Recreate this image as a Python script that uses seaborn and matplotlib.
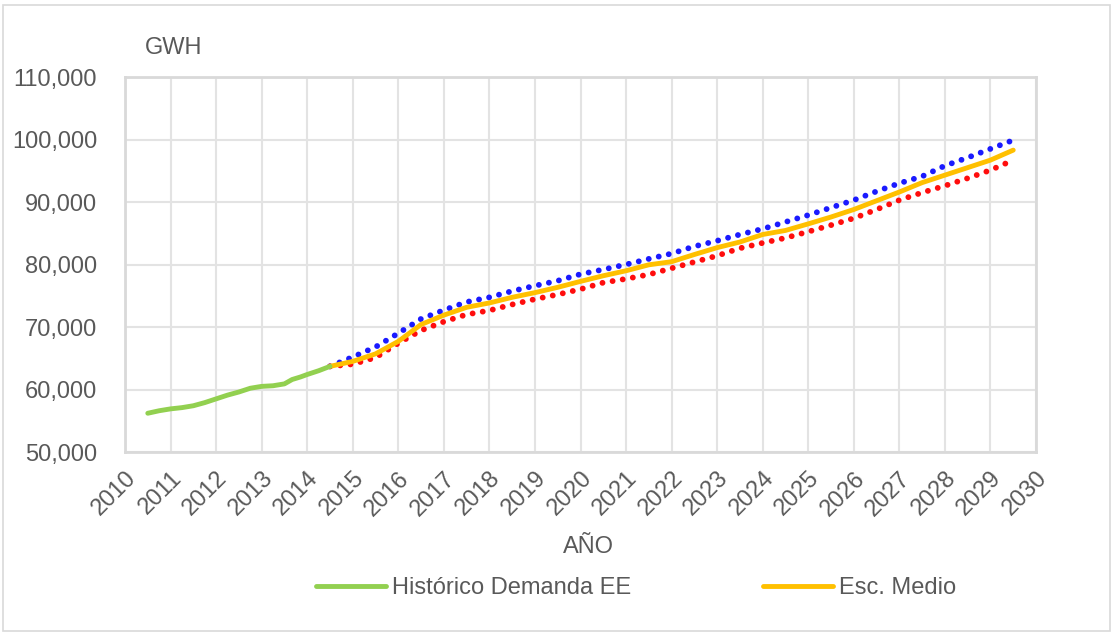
import matplotlib
matplotlib.use("Agg")
import matplotlib.pyplot as plt
from matplotlib.ticker import FuncFormatter
from matplotlib.patches import Rectangle
import seaborn as sns
import pandas as pd

# Historical electricity demand (GWh, rolling annual total)
hist_year = [2010.5, 2010.75, 2011.0, 2011.25, 2011.5, 2011.75, 2012.0, 2012.25,
             2012.5, 2012.75, 2013.0, 2013.25, 2013.5, 2013.67, 2013.85, 2014.0,
             2014.25, 2014.5]
hist_gwh = [56200, 56600, 56900, 57100, 57400, 57900, 58500, 59100,
            59600, 60200, 60500, 60600, 60900, 61600, 62000, 62400,
            63000, 63700]

# Forecast scenarios (GWh), semiannual
fc_year = [2014.5 + 0.5 * i for i in range(31)]
esc_medio = [63700, 64500, 65700, 67700, 70400, 71900, 73150, 73850, 74750, 75500,
             76350, 77300, 78200, 79000, 79950, 80450, 81600, 82700, 83600, 84800,
             85450, 86500, 87600, 88800, 90200, 91600, 93100, 94300, 95500, 96700,
             98300]
esc_alto = [63700, 65200, 66800, 69000, 71300, 72700, 74000, 74750, 75750, 76600,
            77400, 78450, 79200, 80000, 80900, 81750, 82900, 83800, 84800, 85700,
            86800, 87900, 89100, 90300, 91700, 93000, 94100, 95800, 97100, 98500,
            99900]
esc_bajo = [63700, 64050, 65100, 67400, 69450, 70850, 72000, 72650, 73600, 74450,
            75200, 76050, 77100, 77700, 78400, 79400, 80400, 81400, 82600, 83450,
            84250, 85250, 86300, 87400, 88800, 90300, 91500, 92600, 93800, 95100,
            96700]

year_ticks = list(range(2010, 2031))
gwh_ticks = list(range(50000, 110001, 10000))

sns.set_theme(style="white")
plt.rcParams["font.family"] = ["Liberation Sans", "DejaVu Sans"]
TXT = "#595959"
GRID = "#d9d9d9"

fig = plt.figure(figsize=(11.14, 6.35), dpi=100)
ax = fig.add_axes([125 / 1114, 1 - 452 / 635, (1036 - 125) / 1114, (452 - 77) / 635])

hist_df = pd.DataFrame({"year": hist_year, "gwh": hist_gwh})
fc_df = pd.DataFrame({"year": fc_year, "medio": esc_medio, "alto": esc_alto, "bajo": esc_bajo})

dot = (0, (0.01, 1.75))
sns.lineplot(data=fc_df, x="year", y="alto", ax=ax, color="#1a1aff", linewidth=4.2,
             linestyle=dot, dash_capstyle="round")
sns.lineplot(data=fc_df, x="year", y="bajo", ax=ax, color="#ff0d0d", linewidth=4.2,
             linestyle=dot, dash_capstyle="round")
sns.lineplot(data=fc_df, x="year", y="medio", ax=ax, color="#ffc000", linewidth=3.5,
             solid_capstyle="round", label="Esc. Medio")
sns.lineplot(data=hist_df, x="year", y="gwh", ax=ax, color="#92d050", linewidth=3.5,
             solid_capstyle="round", label="Histórico Demanda EE")

ax.set_xlim(2010, 2030)
ax.set_ylim(50000, 110000)
ax.set_xticks(year_ticks)
ax.set_yticks(gwh_ticks)
ax.yaxis.set_major_formatter(FuncFormatter(lambda v, p: f"{int(v):,}"))
ax.set_xticklabels([str(y) for y in year_ticks], rotation=45, ha="right",
                   rotation_mode="anchor")
ax.tick_params(axis="both", length=0, labelsize=17, labelcolor=TXT)
ax.tick_params(axis="x", pad=11)
ax.tick_params(axis="y", pad=20)
ax.grid(True, color="#e3e3e3", linewidth=1.5)
for s in ax.spines.values():
    s.set_color(GRID)
    s.set_linewidth(2)
ax.set_xlabel("")
ax.set_ylabel("")

handles, labels = ax.get_legend_handles_labels()
order = [labels.index("Histórico Demanda EE"), labels.index("Esc. Medio")]
ax.get_legend().remove()
fig.legend([handles[i] for i in order], [labels[i] for i in order],
           loc="center", bbox_to_anchor=(636 / 1114, 1 - 588 / 635), ncol=2,
           frameon=False, fontsize=17, labelcolor=TXT, handlelength=2.95,
           handletextpad=0.25, columnspacing=5.6)

fig.text(145 / 1114, 1 - 48 / 635, "GWH", fontsize=17, color=TXT, ha="left", va="center")
fig.text(588 / 1114, 1 - 547 / 635, "AÑO", fontsize=17, color=TXT, ha="center", va="center")

fig.patches.append(Rectangle((3 / 1114, 4 / 635), 1 - 7 / 1114, 1 - 9 / 635,
                             transform=fig.transFigure, fill=False,
                             edgecolor=GRID, linewidth=1.2))

fig.savefig("out.png", dpi=100)
